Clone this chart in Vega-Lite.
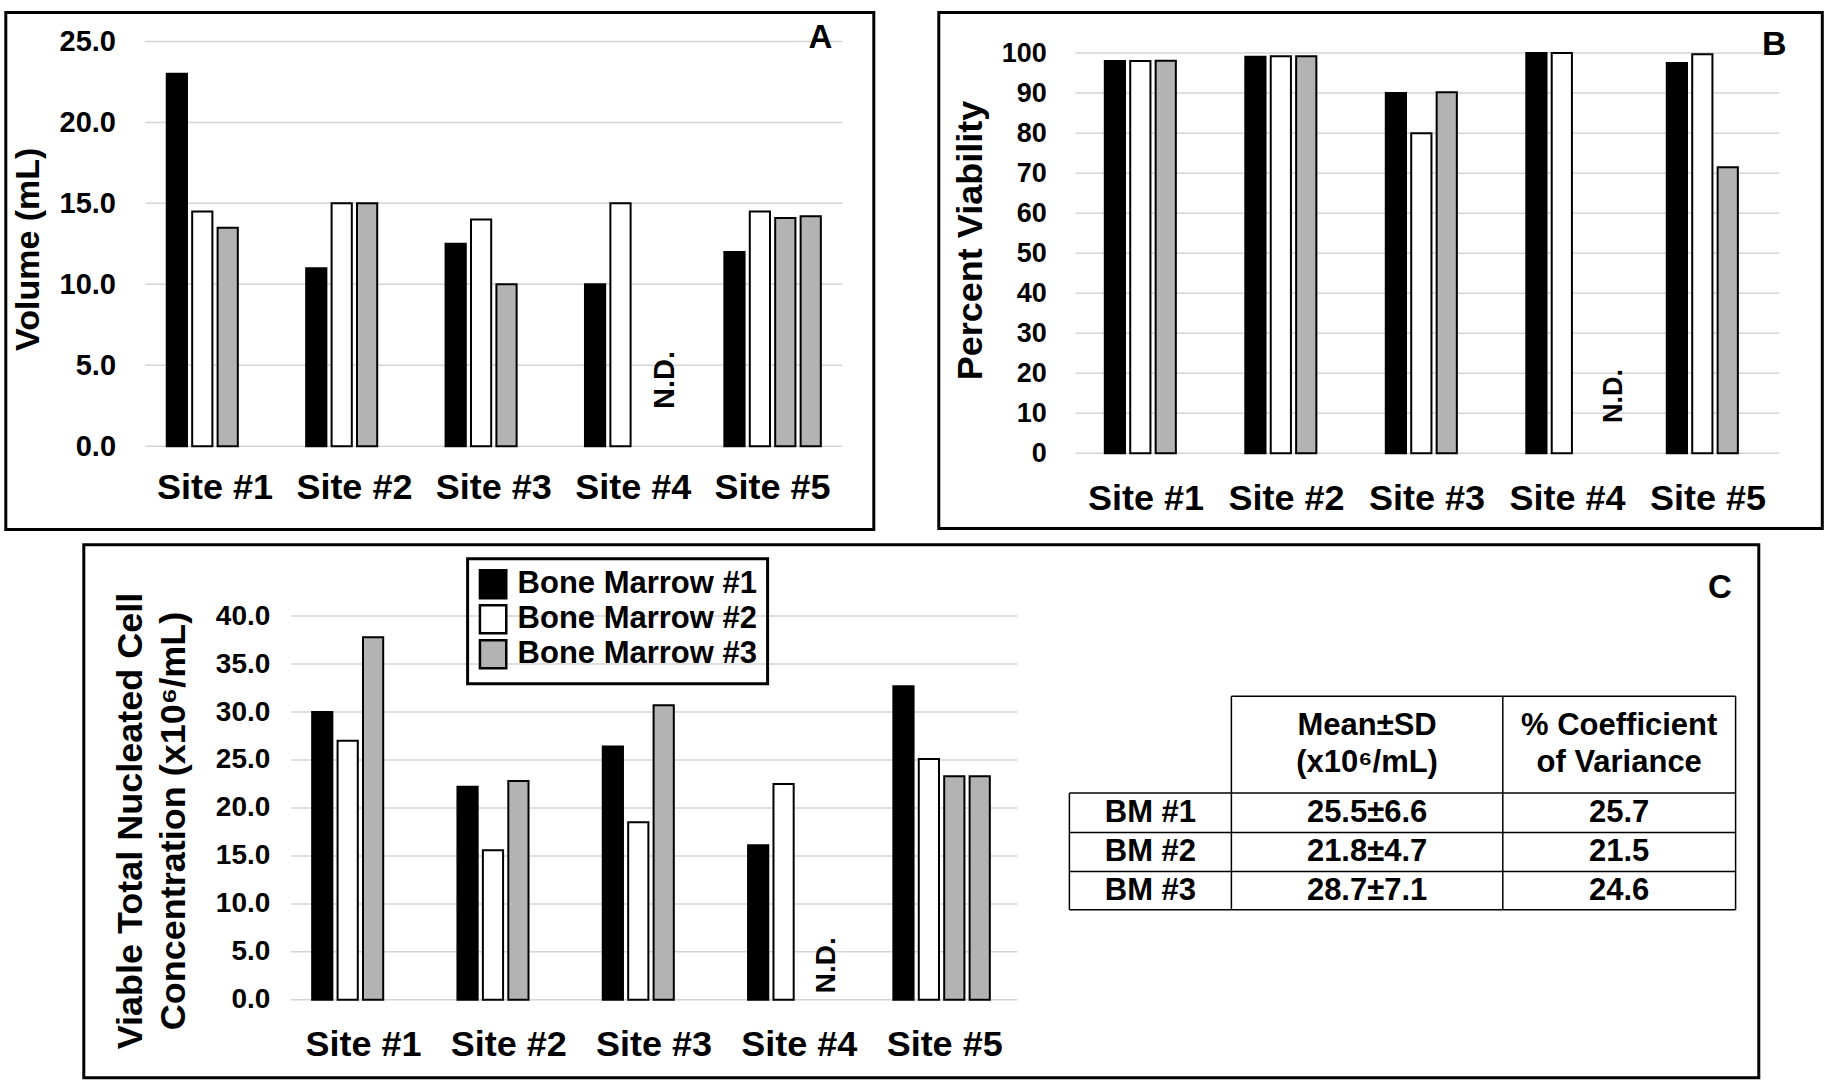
{
  "$schema": "https://vega.github.io/schema/vega-lite/v6.json",
  "background": "white",
  "padding": {"left": 3.8, "top": 10.5, "right": 0, "bottom": 0},
  "config": {
    "view": {"stroke": null},
    "font": "Liberation Sans, Arial, sans-serif",
    "legend": {"strokeWidth": 3}
  },
  "datasets": {
    "volume": [
      {"site": "Site #1", "series": "Bone Marrow #1", "v": 23.0},
      {"site": "Site #1", "series": "Bone Marrow #2", "v": 14.5},
      {"site": "Site #1", "series": "Bone Marrow #3", "v": 13.5},
      {"site": "Site #2", "series": "Bone Marrow #1", "v": 11.0},
      {"site": "Site #2", "series": "Bone Marrow #2", "v": 15.0},
      {"site": "Site #2", "series": "Bone Marrow #3", "v": 15.0},
      {"site": "Site #3", "series": "Bone Marrow #1", "v": 12.5},
      {"site": "Site #3", "series": "Bone Marrow #2", "v": 14.0},
      {"site": "Site #3", "series": "Bone Marrow #3", "v": 10.0},
      {"site": "Site #4", "series": "Bone Marrow #1", "v": 10.0},
      {"site": "Site #4", "series": "Bone Marrow #2", "v": 15.0},
      {"site": "Site #5", "series": "Bone Marrow #1", "v": 12.0},
      {"site": "Site #5", "series": "Bone Marrow #2", "v": 14.5},
      {"site": "Site #5", "series": "Bone Marrow #3", "v": 14.1},
      {"site": "Site #5", "series": "Bone Marrow #3 (repeat)", "v": 14.2}
    ],
    "viability": [
      {"site": "Site #1", "series": "Bone Marrow #1", "v": 98.0},
      {"site": "Site #1", "series": "Bone Marrow #2", "v": 98.0},
      {"site": "Site #1", "series": "Bone Marrow #3", "v": 98.1},
      {"site": "Site #2", "series": "Bone Marrow #1", "v": 99.1},
      {"site": "Site #2", "series": "Bone Marrow #2", "v": 99.2},
      {"site": "Site #2", "series": "Bone Marrow #3", "v": 99.2},
      {"site": "Site #3", "series": "Bone Marrow #1", "v": 90.0},
      {"site": "Site #3", "series": "Bone Marrow #2", "v": 80.0},
      {"site": "Site #3", "series": "Bone Marrow #3", "v": 90.2},
      {"site": "Site #4", "series": "Bone Marrow #1", "v": 100.0},
      {"site": "Site #4", "series": "Bone Marrow #2", "v": 100.0},
      {"site": "Site #5", "series": "Bone Marrow #1", "v": 97.5},
      {"site": "Site #5", "series": "Bone Marrow #2", "v": 99.7},
      {"site": "Site #5", "series": "Bone Marrow #3", "v": 71.5}
    ],
    "concentration": [
      {"site": "Site #1", "series": "Bone Marrow #1", "v": 30.0},
      {"site": "Site #1", "series": "Bone Marrow #2", "v": 27.0},
      {"site": "Site #1", "series": "Bone Marrow #3", "v": 37.8},
      {"site": "Site #2", "series": "Bone Marrow #1", "v": 22.2},
      {"site": "Site #2", "series": "Bone Marrow #2", "v": 15.6},
      {"site": "Site #2", "series": "Bone Marrow #3", "v": 22.8},
      {"site": "Site #3", "series": "Bone Marrow #1", "v": 26.4},
      {"site": "Site #3", "series": "Bone Marrow #2", "v": 18.5},
      {"site": "Site #3", "series": "Bone Marrow #3", "v": 30.7},
      {"site": "Site #4", "series": "Bone Marrow #1", "v": 16.1},
      {"site": "Site #4", "series": "Bone Marrow #2", "v": 22.5},
      {"site": "Site #5", "series": "Bone Marrow #1", "v": 32.7},
      {"site": "Site #5", "series": "Bone Marrow #2", "v": 25.1},
      {"site": "Site #5", "series": "Bone Marrow #3", "v": 23.3},
      {"site": "Site #5", "series": "Bone Marrow #3 (repeat)", "v": 23.3}
    ],
    "ticksA": [{"tick": 0}, {"tick": 5}, {"tick": 10}, {"tick": 15}, {"tick": 20}, {"tick": 25}],
    "ticksB": [{"tick": 0}, {"tick": 10}, {"tick": 20}, {"tick": 30}, {"tick": 40}, {"tick": 50}, {"tick": 60}, {"tick": 70}, {"tick": 80}, {"tick": 90}, {"tick": 100}],
    "ticksC": [{"tick": 0}, {"tick": 5}, {"tick": 10}, {"tick": 15}, {"tick": 20}, {"tick": 25}, {"tick": 30}, {"tick": 35}, {"tick": 40}],
    "tableHeader": [
      {"row": 1, "col": 2, "text": ["Mean±SD", "(x10⁶/mL)"]},
      {"row": 1, "col": 3, "text": ["% Coefficient", "of Variance"]}
    ],
    "tableBody": [
      {"row": 2, "col": 1, "text": "BM #1"},
      {"row": 2, "col": 2, "text": "25.5±6.6"},
      {"row": 2, "col": 3, "text": "25.7"},
      {"row": 3, "col": 1, "text": "BM #2"},
      {"row": 3, "col": 2, "text": "21.8±4.7"},
      {"row": 3, "col": 3, "text": "21.5"},
      {"row": 4, "col": 1, "text": "BM #3"},
      {"row": 4, "col": 2, "text": "28.7±7.1"},
      {"row": 4, "col": 3, "text": "24.6"}
    ]
  },
  "spacing": 11.3,
  "resolve": {"scale": {"fill": "independent"}, "legend": {"fill": "independent"}},
  "vconcat": [
    {
      "spacing": 61,
      "resolve": {"scale": {"fill": "independent"}, "legend": {"fill": "independent"}},
      "hconcat": [
        {
          "width": 868,
          "height": 517,
          "view": {"stroke": "black", "strokeWidth": 3},
          "resolve": {"scale": {"x": "independent", "y": "independent"}},
          "layer": [
            {
              "data": {"name": "ticksA"},
              "mark": {"type": "rule", "color": "#d4d4d4", "strokeWidth": 1.5},
              "encoding": {
                "x": {"datum": 0, "type": "quantitative", "scale": {"domain": [-0.20014, 1.04519], "nice": false, "zero": false}, "axis": null},
                "x2": {"datum": 1},
                "y": {"field": "tick", "type": "quantitative", "scale": {"domain": [-5.137, 26.784], "nice": false, "zero": false}, "axis": null}
              }
            },
            {
              "layer": [
                {
                  "data": {"name": "volume"},
                  "mark": {"type": "bar", "stroke": "black", "strokeWidth": 2},
                  "encoding": {
                    "x": {"field": "site", "type": "nominal",
                      "scale": {"domain": ["Site #1", "Site #2", "Site #3", "Site #4", "Site #5"], "range": [139.5, 836.5], "paddingInner": 0.308, "paddingOuter": 0.154},
                      "axis": {"orient": "bottom", "offset": -31, "domain": false, "ticks": false, "tickSize": 0, "grid": false, "labelPadding": 0, "labelBaseline": "alphabetic", "labelAngle": 0, "labelFontSize": 36, "labelFontWeight": "bold", "labelColor": "black", "labelOverlap": false, "labelLimit": 0, "title": null}},
                    "xOffset": {"field": "series", "type": "nominal", "scale": {"domain": ["Bone Marrow #1", "Bone Marrow #2", "Bone Marrow #3", "Bone Marrow #3 (repeat)"], "paddingInner": 0.205, "paddingOuter": 0}},
                    "y": {"field": "v", "type": "quantitative",
                      "scale": {"domain": [-5.137, 26.784], "nice": false, "zero": false},
                      "axis": {"orient": "left", "offset": -109.7, "values": [0, 5, 10, 15, 20, 25], "format": ".1f", "domain": false, "ticks": false, "tickSize": 0, "grid": false, "labelPadding": 0, "labelFontSize": 29, "labelFontWeight": "bold", "labelColor": "black", "labelOverlap": false, "title": "Volume (mL)", "titleFontSize": 34, "titleFontWeight": "bold", "titleColor": "black", "titleAngle": 270, "titleAlign": "center", "titleBaseline": "middle", "titleX": -86.5, "titleY": 236.3}},
                    "y2": {"datum": 0},
                    "fill": {"field": "series", "type": "nominal", "scale": {"domain": ["Bone Marrow #1", "Bone Marrow #2", "Bone Marrow #3", "Bone Marrow #3 (repeat)"], "range": ["#000000", "#ffffff", "#b3b3b3", "#b3b3b3"]}, "legend": null}
                  }
                },
                {
                  "data": {"values": [{}]},
                  "mark": {"type": "text", "text": "N.D.", "angle": 270, "fontSize": 29, "fontWeight": "bold", "color": "black", "align": "center", "baseline": "middle", "dy": 19.1},
                  "encoding": {
                    "x": {"datum": "Site #4", "type": "nominal",
                      "scale": {"domain": ["Site #1", "Site #2", "Site #3", "Site #4", "Site #5"], "range": [139.5, 836.5], "paddingInner": 0.308, "paddingOuter": 0.154},
                      "axis": {"orient": "bottom", "offset": -31, "domain": false, "ticks": false, "tickSize": 0, "grid": false, "labelPadding": 0, "labelBaseline": "alphabetic", "labelAngle": 0, "labelFontSize": 36, "labelFontWeight": "bold", "labelColor": "black", "labelOverlap": false, "labelLimit": 0, "title": null}},
                    "xOffset": {"datum": "Bone Marrow #3", "type": "nominal", "scale": {"domain": ["Bone Marrow #1", "Bone Marrow #2", "Bone Marrow #3", "Bone Marrow #3 (repeat)"], "paddingInner": 0.205, "paddingOuter": 0}},
                    "y": {"datum": 4.1, "type": "quantitative", "scale": {"domain": [-5.137, 26.784], "nice": false, "zero": false}}
                  }
                }
              ]
            },
            {
              "data": {"values": [{}]},
              "mark": {"type": "text", "text": "A", "fontSize": 33, "fontWeight": "bold", "color": "black", "align": "center", "baseline": "middle"},
              "encoding": {
                "x": {"datum": 0.9687, "type": "quantitative", "scale": {"domain": [-0.20014, 1.04519], "nice": false, "zero": false}, "axis": null},
                "y": {"datum": 25.2, "type": "quantitative", "scale": {"domain": [-5.137, 26.784], "nice": false, "zero": false}, "axis": null}
              }
            }
          ]
        },
        {
          "width": 883.5,
          "height": 516,
          "view": {"stroke": "black", "strokeWidth": 3},
          "resolve": {"scale": {"x": "independent", "y": "independent"}},
          "layer": [
            {
              "data": {"name": "ticksB"},
              "mark": {"type": "rule", "color": "#d4d4d4", "strokeWidth": 1.5},
              "encoding": {
                "x": {"datum": 0, "type": "quantitative", "scale": {"domain": [-0.19389, 1.06108], "nice": false, "zero": false}, "axis": null},
                "x2": {"datum": 1},
                "y": {"field": "tick", "type": "quantitative", "scale": {"domain": [-18.79, 110.145], "nice": false, "zero": false}, "axis": null}
              }
            },
            {
              "layer": [
                {
                  "data": {"name": "viability"},
                  "mark": {"type": "bar", "stroke": "black", "strokeWidth": 2},
                  "encoding": {
                    "x": {"field": "site", "type": "nominal",
                      "scale": {"domain": ["Site #1", "Site #2", "Site #3", "Site #4", "Site #5"], "paddingInner": 0.4135, "paddingOuter": 0.8509, "align": 0.6943},
                      "axis": {"orient": "bottom", "offset": -19, "domain": false, "ticks": false, "tickSize": 0, "grid": false, "labelPadding": 0, "labelBaseline": "alphabetic", "labelAngle": 0, "labelFontSize": 36, "labelFontWeight": "bold", "labelColor": "black", "labelOverlap": false, "labelLimit": 0, "title": null}},
                    "xOffset": {"field": "series", "type": "nominal", "scale": {"domain": ["Bone Marrow #1", "Bone Marrow #2", "Bone Marrow #3"], "paddingInner": 0.225, "paddingOuter": 0}},
                    "y": {"field": "v", "type": "quantitative",
                      "scale": {"domain": [-18.79, 110.145], "nice": false, "zero": false},
                      "axis": {"orient": "left", "offset": -107.5, "values": [0, 10, 20, 30, 40, 50, 60, 70, 80, 90, 100], "format": "d", "domain": false, "ticks": false, "tickSize": 0, "grid": false, "labelPadding": 0, "labelFontSize": 27, "labelFontWeight": "bold", "labelColor": "black", "labelOverlap": false, "title": "Percent Viability", "titleFontSize": 36, "titleFontWeight": "bold", "titleColor": "black", "titleAngle": 270, "titleAlign": "center", "titleBaseline": "middle", "titleX": -76, "titleY": 227.5}},
                    "y2": {"datum": 0},
                    "fill": {"field": "series", "type": "nominal", "scale": {"domain": ["Bone Marrow #1", "Bone Marrow #2", "Bone Marrow #3"], "range": ["#000000", "#ffffff", "#b3b3b3"]}, "legend": null}
                  }
                },
                {
                  "data": {"values": [{}]},
                  "mark": {"type": "text", "text": "N.D.", "angle": 270, "fontSize": 27, "fontWeight": "bold", "color": "black", "align": "center", "baseline": "middle", "dy": 26.5},
                  "encoding": {
                    "x": {"datum": "Site #4", "type": "nominal",
                      "scale": {"domain": ["Site #1", "Site #2", "Site #3", "Site #4", "Site #5"], "paddingInner": 0.4135, "paddingOuter": 0.8509, "align": 0.6943},
                      "axis": {"orient": "bottom", "offset": -19, "domain": false, "ticks": false, "tickSize": 0, "grid": false, "labelPadding": 0, "labelBaseline": "alphabetic", "labelAngle": 0, "labelFontSize": 36, "labelFontWeight": "bold", "labelColor": "black", "labelOverlap": false, "labelLimit": 0, "title": null}},
                    "xOffset": {"datum": "Bone Marrow #3", "type": "nominal", "scale": {"domain": ["Bone Marrow #1", "Bone Marrow #2", "Bone Marrow #3"], "paddingInner": 0.225, "paddingOuter": 0}},
                    "y": {"datum": 14.3, "type": "quantitative", "scale": {"domain": [-18.79, 110.145], "nice": false, "zero": false}}
                  }
                }
              ]
            },
            {
              "data": {"values": [{}]},
              "mark": {"type": "text", "text": "B", "fontSize": 34, "fontWeight": "bold", "color": "black", "align": "center", "baseline": "middle"},
              "encoding": {
                "x": {"datum": 0.993, "type": "quantitative", "scale": {"domain": [-0.19389, 1.06108], "nice": false, "zero": false}, "axis": null},
                "y": {"datum": 102.1, "type": "quantitative", "scale": {"domain": [-18.79, 110.145], "nice": false, "zero": false}, "axis": null}
              }
            }
          ]
        }
      ]
    },
    {
      "spacing": 0,
      "resolve": {"scale": {"fill": "independent"}, "legend": {"fill": "independent"}},
      "hconcat": [
        {
          "width": 75.2,
          "height": 10,
          "data": {"values": [{}]},
          "mark": {"type": "point", "opacity": 0},
          "encoding": {}
        },
        {
          "width": 1675,
          "height": 533,
          "view": {"stroke": "black", "strokeWidth": 3},
          "resolve": {"scale": {"x": "independent", "y": "independent"}},
          "layer": [
            {
              "data": {"name": "ticksC"},
              "mark": {"type": "rule", "color": "#d4d4d4", "strokeWidth": 1.5},
              "encoding": {
                "x": {"datum": 0, "type": "quantitative", "scale": {"domain": [-0.28493, 2.02065], "nice": false, "zero": false}, "axis": null},
                "x2": {"datum": 1},
                "y": {"field": "tick", "type": "quantitative", "scale": {"domain": [-8.131, 47.433], "nice": false, "zero": false}, "axis": null}
              }
            },
            {
              "layer": [
                {
                  "data": {"name": "concentration"},
                  "mark": {"type": "bar", "stroke": "black", "strokeWidth": 2},
                  "encoding": {
                    "x": {"field": "site", "type": "nominal",
                      "scale": {"domain": ["Site #1", "Site #2", "Site #3", "Site #4", "Site #5"], "range": [207, 933.5], "paddingInner": 0.294, "paddingOuter": 0.147},
                      "axis": {"orient": "bottom", "offset": -22, "domain": false, "ticks": false, "tickSize": 0, "grid": false, "labelPadding": 0, "labelBaseline": "alphabetic", "labelAngle": 0, "labelFontSize": 36, "labelFontWeight": "bold", "labelColor": "black", "labelOverlap": false, "labelLimit": 0, "title": null}},
                    "xOffset": {"field": "series", "type": "nominal", "scale": {"domain": ["Bone Marrow #1", "Bone Marrow #2", "Bone Marrow #3", "Bone Marrow #3 (repeat)"], "paddingInner": 0.186, "paddingOuter": 0}},
                    "y": {"field": "v", "type": "quantitative",
                      "scale": {"domain": [-8.131, 47.433], "nice": false, "zero": false},
                      "axis": {"orient": "left", "offset": -186, "values": [0, 5, 10, 15, 20, 25, 30, 35, 40], "format": ".1f", "domain": false, "ticks": false, "tickSize": 0, "grid": false, "labelPadding": 0, "labelFontSize": 28, "labelFontWeight": "bold", "labelColor": "black", "labelOverlap": false, "title": ["Viable Total Nucleated Cell", "Concentration (x10⁶/mL)"], "titleFontSize": 36, "titleLineHeight": 43, "titleFontWeight": "bold", "titleColor": "black", "titleAngle": 270, "titleAlign": "center", "titleBaseline": "middle", "titleX": -139, "titleY": 275.7}},
                    "y2": {"datum": 0},
                    "fill": {"field": "series", "type": "nominal", "scale": {"domain": ["Bone Marrow #1", "Bone Marrow #2", "Bone Marrow #3", "Bone Marrow #3 (repeat)"], "range": ["#000000", "#ffffff", "#b3b3b3", "#b3b3b3"]},
                      "legend": {"title": null, "orient": "none", "legendX": 383.8, "legendY": 14, "values": ["Bone Marrow #1", "Bone Marrow #2", "Bone Marrow #3"], "symbolType": "M-0.94,-1H0.94V1H-0.94Z", "symbolSize": 784, "symbolStrokeColor": "black", "symbolStrokeWidth": 2.5, "symbolOpacity": 1, "labelFontSize": 31, "labelFontWeight": "bold", "labelColor": "black", "labelOffset": 9, "labelLimit": 0, "rowPadding": -5, "padding": 10, "strokeColor": "black"}}
                  }
                },
                {
                  "data": {"values": [{}]},
                  "mark": {"type": "text", "text": "N.D.", "angle": 270, "fontSize": 28, "fontWeight": "bold", "color": "black", "align": "center", "baseline": "middle", "dy": 18},
                  "encoding": {
                    "x": {"datum": "Site #4", "type": "nominal",
                      "scale": {"domain": ["Site #1", "Site #2", "Site #3", "Site #4", "Site #5"], "range": [207, 933.5], "paddingInner": 0.294, "paddingOuter": 0.147},
                      "axis": {"orient": "bottom", "offset": -22, "domain": false, "ticks": false, "tickSize": 0, "grid": false, "labelPadding": 0, "labelBaseline": "alphabetic", "labelAngle": 0, "labelFontSize": 36, "labelFontWeight": "bold", "labelColor": "black", "labelOverlap": false, "labelLimit": 0, "title": null}},
                    "xOffset": {"datum": "Bone Marrow #3", "type": "nominal", "scale": {"domain": ["Bone Marrow #1", "Bone Marrow #2", "Bone Marrow #3", "Bone Marrow #3 (repeat)"], "paddingInner": 0.186, "paddingOuter": 0}},
                    "y": {"datum": 3.6, "type": "quantitative", "scale": {"domain": [-8.131, 47.433], "nice": false, "zero": false}}
                  }
                }
              ]
            },
            {
              "data": {"values": [{}]},
              "mark": {"type": "text", "text": "C", "fontSize": 33, "fontWeight": "bold", "color": "black", "align": "center", "baseline": "middle"},
              "encoding": {
                "x": {"datum": 1.967, "type": "quantitative", "scale": {"domain": [-0.28493, 2.02065], "nice": false, "zero": false}, "axis": null},
                "y": {"datum": 42.93, "type": "quantitative", "scale": {"domain": [-8.131, 47.433], "nice": false, "zero": false}, "axis": null}
              }
            },
            {
              "layer": [
                {
                  "data": {"name": "tableHeader"},
                  "mark": {"type": "text", "fontSize": 31, "fontWeight": "bold", "color": "black", "align": "center", "baseline": "middle", "lineHeight": 37, "dy": -18.5},
                  "encoding": {
                    "x": {"field": "col", "type": "quantitative", "scale": {"domain": [0.5, 1.5, 2.5, 3.5], "range": [985.6, 1147.6, 1419, 1651.8], "nice": false, "zero": false}, "axis": null},
                    "y": {"field": "row", "type": "quantitative", "scale": {"domain": [0.5, 1.5, 2.5, 3.5, 4.5], "range": [151.5, 248.3, 287.8, 326.6, 364.9], "nice": false, "zero": false}, "axis": null},
                    "text": {"field": "text"}
                  }
                },
                {
                  "data": {"name": "tableBody"},
                  "mark": {"type": "text", "fontSize": 31, "fontWeight": "bold", "color": "black", "align": "center", "baseline": "middle"},
                  "encoding": {
                    "x": {"field": "col", "type": "quantitative", "scale": {"domain": [0.5, 1.5, 2.5, 3.5], "range": [985.6, 1147.6, 1419, 1651.8], "nice": false, "zero": false}, "axis": null},
                    "y": {"field": "row", "type": "quantitative", "scale": {"domain": [0.5, 1.5, 2.5, 3.5, 4.5], "range": [151.5, 248.3, 287.8, 326.6, 364.9], "nice": false, "zero": false}, "axis": null},
                    "text": {"field": "text"}
                  }
                },
                {
                  "data": {"values": [{}]},
                  "mark": {"type": "rule", "color": "black", "strokeWidth": 1.5},
                  "encoding": {
                    "x": {"datum": 1.5, "type": "quantitative", "scale": {"domain": [0.5, 1.5, 2.5, 3.5], "range": [985.6, 1147.6, 1419, 1651.8], "nice": false, "zero": false}, "axis": null},
                    "x2": {"datum": 3.5},
                    "y": {"datum": 0.5, "type": "quantitative", "scale": {"domain": [0.5, 1.5, 2.5, 3.5, 4.5], "range": [151.5, 248.3, 287.8, 326.6, 364.9], "nice": false, "zero": false}, "axis": null}
                  }
                },
                {
                  "data": {"values": [{}]},
                  "mark": {"type": "rule", "color": "black", "strokeWidth": 1.5},
                  "encoding": {
                    "x": {"datum": 0.5, "type": "quantitative", "scale": {"domain": [0.5, 1.5, 2.5, 3.5], "range": [985.6, 1147.6, 1419, 1651.8], "nice": false, "zero": false}, "axis": null},
                    "x2": {"datum": 3.5},
                    "y": {"datum": 1.5, "type": "quantitative", "scale": {"domain": [0.5, 1.5, 2.5, 3.5, 4.5], "range": [151.5, 248.3, 287.8, 326.6, 364.9], "nice": false, "zero": false}, "axis": null}
                  }
                },
                {
                  "data": {"values": [{}]},
                  "mark": {"type": "rule", "color": "black", "strokeWidth": 1.5},
                  "encoding": {
                    "x": {"datum": 0.5, "type": "quantitative", "scale": {"domain": [0.5, 1.5, 2.5, 3.5], "range": [985.6, 1147.6, 1419, 1651.8], "nice": false, "zero": false}, "axis": null},
                    "x2": {"datum": 3.5},
                    "y": {"datum": 2.5, "type": "quantitative", "scale": {"domain": [0.5, 1.5, 2.5, 3.5, 4.5], "range": [151.5, 248.3, 287.8, 326.6, 364.9], "nice": false, "zero": false}, "axis": null}
                  }
                },
                {
                  "data": {"values": [{}]},
                  "mark": {"type": "rule", "color": "black", "strokeWidth": 1.5},
                  "encoding": {
                    "x": {"datum": 0.5, "type": "quantitative", "scale": {"domain": [0.5, 1.5, 2.5, 3.5], "range": [985.6, 1147.6, 1419, 1651.8], "nice": false, "zero": false}, "axis": null},
                    "x2": {"datum": 3.5},
                    "y": {"datum": 3.5, "type": "quantitative", "scale": {"domain": [0.5, 1.5, 2.5, 3.5, 4.5], "range": [151.5, 248.3, 287.8, 326.6, 364.9], "nice": false, "zero": false}, "axis": null}
                  }
                },
                {
                  "data": {"values": [{}]},
                  "mark": {"type": "rule", "color": "black", "strokeWidth": 1.5},
                  "encoding": {
                    "x": {"datum": 0.5, "type": "quantitative", "scale": {"domain": [0.5, 1.5, 2.5, 3.5], "range": [985.6, 1147.6, 1419, 1651.8], "nice": false, "zero": false}, "axis": null},
                    "x2": {"datum": 3.5},
                    "y": {"datum": 4.5, "type": "quantitative", "scale": {"domain": [0.5, 1.5, 2.5, 3.5, 4.5], "range": [151.5, 248.3, 287.8, 326.6, 364.9], "nice": false, "zero": false}, "axis": null}
                  }
                },
                {
                  "data": {"values": [{}]},
                  "mark": {"type": "rule", "color": "black", "strokeWidth": 1.5},
                  "encoding": {
                    "x": {"datum": 0.5, "type": "quantitative", "scale": {"domain": [0.5, 1.5, 2.5, 3.5], "range": [985.6, 1147.6, 1419, 1651.8], "nice": false, "zero": false}, "axis": null},
                    "y": {"datum": 1.5, "type": "quantitative", "scale": {"domain": [0.5, 1.5, 2.5, 3.5, 4.5], "range": [151.5, 248.3, 287.8, 326.6, 364.9], "nice": false, "zero": false}, "axis": null},
                    "y2": {"datum": 4.5}
                  }
                },
                {
                  "data": {"values": [{}]},
                  "mark": {"type": "rule", "color": "black", "strokeWidth": 1.5},
                  "encoding": {
                    "x": {"datum": 1.5, "type": "quantitative", "scale": {"domain": [0.5, 1.5, 2.5, 3.5], "range": [985.6, 1147.6, 1419, 1651.8], "nice": false, "zero": false}, "axis": null},
                    "y": {"datum": 0.5, "type": "quantitative", "scale": {"domain": [0.5, 1.5, 2.5, 3.5, 4.5], "range": [151.5, 248.3, 287.8, 326.6, 364.9], "nice": false, "zero": false}, "axis": null},
                    "y2": {"datum": 4.5}
                  }
                },
                {
                  "data": {"values": [{}]},
                  "mark": {"type": "rule", "color": "black", "strokeWidth": 1.5},
                  "encoding": {
                    "x": {"datum": 2.5, "type": "quantitative", "scale": {"domain": [0.5, 1.5, 2.5, 3.5], "range": [985.6, 1147.6, 1419, 1651.8], "nice": false, "zero": false}, "axis": null},
                    "y": {"datum": 0.5, "type": "quantitative", "scale": {"domain": [0.5, 1.5, 2.5, 3.5, 4.5], "range": [151.5, 248.3, 287.8, 326.6, 364.9], "nice": false, "zero": false}, "axis": null},
                    "y2": {"datum": 4.5}
                  }
                },
                {
                  "data": {"values": [{}]},
                  "mark": {"type": "rule", "color": "black", "strokeWidth": 1.5},
                  "encoding": {
                    "x": {"datum": 3.5, "type": "quantitative", "scale": {"domain": [0.5, 1.5, 2.5, 3.5], "range": [985.6, 1147.6, 1419, 1651.8], "nice": false, "zero": false}, "axis": null},
                    "y": {"datum": 0.5, "type": "quantitative", "scale": {"domain": [0.5, 1.5, 2.5, 3.5, 4.5], "range": [151.5, 248.3, 287.8, 326.6, 364.9], "nice": false, "zero": false}, "axis": null},
                    "y2": {"datum": 4.5}
                  }
                }
              ]
            }
          ]
        }
      ]
    }
  ]
}
